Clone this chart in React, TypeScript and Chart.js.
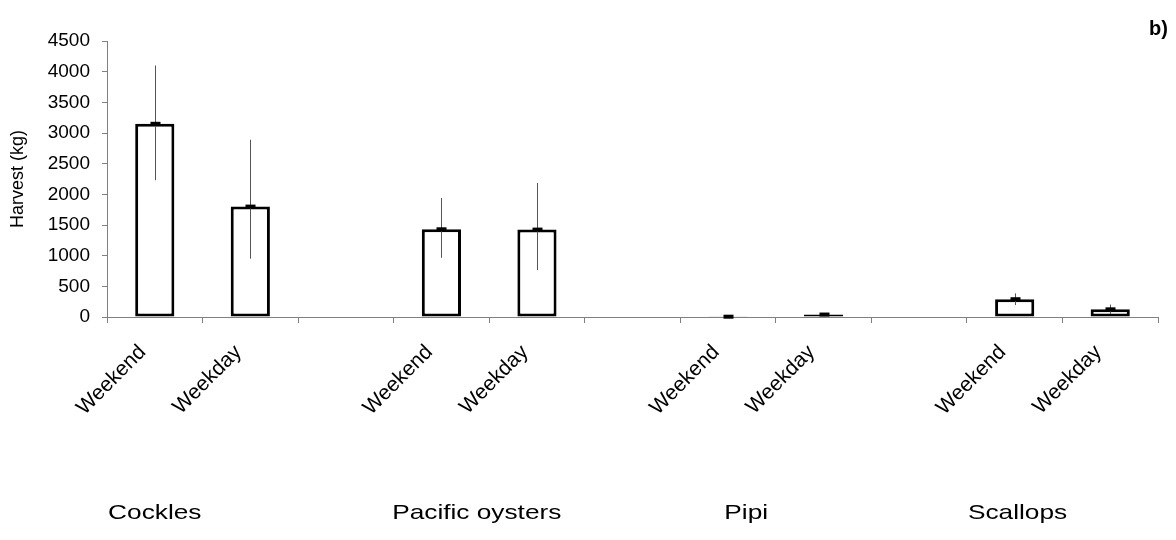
import React, { useEffect, useRef } from "react";
import { Chart, registerables } from "chart.js";

Chart.register(...registerables);

const FONT = "'Liberation Sans', Arial, Helvetica, sans-serif";

// x categories (blank slots separate the species groups)
const categories = ["Weekend", "Weekday", "", "Weekend", "Weekday", "", "Weekend", "Weekday", "", "Weekend", "Weekday"];
// mean harvest (kg)
const harvest = [3150, 1800, null, 1430, 1425, null, 5, 40, null, 290, 125];
// error bar extents above / below the mean (kg)
const errPlus = [950, 1090, null, 510, 760, null, 6, 15, null, 95, 78];
const errMinus = [920, 850, null, 465, 660, null, 5, 15, null, 95, 78];
// group names and their centre (in category units)
const groupNames = ["Cockles", "Pacific oysters", "Pipi", "Scallops"];
const groupCentres = [0, 3.37, 6.19, 9.03];
const yTitle = "Harvest (kg)";
const panelLabel = "b)";
const yMin = 0;
const yMax = 4500;
const yStep = 500;

const overlay = {
  id: "overlay",
  afterDatasetsDraw(chart: any) {
    const ctx = chart.ctx;
    const ys = chart.scales.y;
    const meta = chart.getDatasetMeta(0);
    ctx.save();
    harvest.forEach((v, i) => {
      if (v == null) return;
      const bar = meta.data[i];
      const x = Math.round(bar.x) + 0.5;
      ctx.strokeStyle = "#555";
      ctx.lineWidth = 1;
      ctx.beginPath();
      ctx.moveTo(x, ys.getPixelForValue(v + (errPlus[i] as number)));
      ctx.lineTo(x, ys.getPixelForValue(Math.max(0, v - (errMinus[i] as number))));
      ctx.stroke();
      ctx.fillStyle = "#000";
      ctx.fillRect(x - 5, ys.getPixelForValue(v) - 2, 10, 4);
    });
    ctx.restore();
  },
  afterDraw(chart: any) {
    const ctx = chart.ctx;
    const xs = chart.scales.x;
    ctx.save();
    ctx.fillStyle = "#000";
    ctx.font = `21px ${FONT}`;
    ctx.textAlign = "center";
    ctx.textBaseline = "alphabetic";
    groupNames.forEach((n, k) => {
      const px = xs.getPixelForValue(groupCentres[k]);
      ctx.save();
      ctx.translate(px, 519);
      ctx.scale(1.25, 1);
      ctx.fillText(n, 0, 0);
      ctx.restore();
    });
    ctx.font = `bold 20px ${FONT}`;
    ctx.textAlign = "right";
    ctx.fillText(panelLabel, 1168, 35);
    ctx.restore();
  },
};

export default function App() {
  const ref = useRef<HTMLCanvasElement | null>(null);
  useEffect(() => {
    if (!ref.current) return;
    const chart = new Chart(ref.current, {
      type: "bar",
      data: {
        labels: categories,
        datasets: [
          {
            data: harvest as any,
            backgroundColor: "#ffffff",
            borderColor: "#000000",
            borderWidth: 3,
            borderSkipped: false,
            barPercentage: 0.41,
            categoryPercentage: 1,
          },
        ],
      },
      options: {
        animation: false,
        responsive: false,
        layout: { padding: { top: 41, right: 18, left: 0, bottom: 0 } },
        plugins: { legend: { display: false }, tooltip: { enabled: false } },
        scales: {
          x: {
            grid: { offset: true, drawOnChartArea: false, drawTicks: true, tickLength: 6, color: "#808080", lineWidth: 1 },
            border: { display: true, color: "#808080", width: 1 },
            ticks: { autoSkip: false, maxRotation: 45, minRotation: 45, padding: 17, labelOffset: -12, color: "#000", font: { family: FONT, size: 21 } },
            afterFit: (s: any) => { s.height = 223; },
          },
          y: {
            min: yMin,
            max: yMax,
            ticks: { stepSize: yStep, color: "#000", font: { family: FONT, size: 19 }, padding: 12, callback: (v: any) => String(v) },
            grid: { drawOnChartArea: false, drawTicks: true, tickLength: 5, color: "#808080" },
            border: { display: true, color: "#808080", width: 1 },
            title: { display: true, text: yTitle, color: "#000", font: { family: FONT, size: 18 }, padding: { top: 7, bottom: 0 } },
            afterFit: (s: any) => { s.width = 107; },
          },
        },
      },
      plugins: [overlay],
    });
    return () => chart.destroy();
  }, []);
  return (
    <div style={{ position: "fixed", left: 0, top: 0, width: 1176, height: 540, background: "#fff" }}>
      <canvas ref={ref} width={1176} height={540} />
    </div>
  );
}
